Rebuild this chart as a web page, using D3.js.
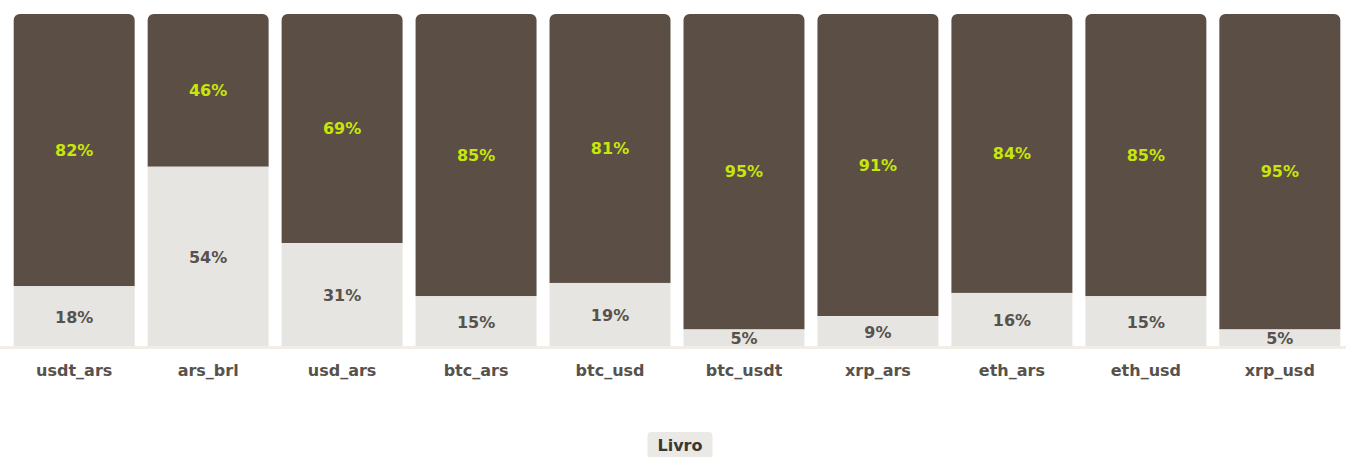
<!DOCTYPE html>
<html>
<head>
<meta charset="utf-8">
<script src="https://cdn.jsdelivr.net/npm/d3@7"></script>
<style>
  html, body { margin: 0; padding: 0; background: #ffffff; }
  svg { display: block; font-family: "DejaVu Sans", sans-serif; }
</style>
</head>
<body>
<svg id="chart" width="1346" height="457"></svg>
<script>
// Market pairs and the share of each bar (percent)
const categories = ["usdt_ars", "ars_brl", "usd_ars", "btc_ars", "btc_usd", "btc_usdt", "xrp_ars", "eth_ars", "eth_usd", "xrp_usd"];
const livroValues = [82, 46, 69, 85, 81, 95, 91, 84, 85, 95];
const restValues  = [18, 54, 31, 15, 19, 5, 9, 16, 15, 5];
const legendLabel = "Livro";

const width = 1346, height = 457;
const margin = { top: 14, right: 0, bottom: 111, left: 7 };
const baseY = height - margin.bottom;
const fontSize = 16;

const svg = d3.select("#chart");

const x = d3.scaleBand()
  .domain(categories)
  .range([margin.left, width + 1])
  .paddingInner(0.097)
  .paddingOuter(0.05);

const y = d3.scaleLinear()
  .domain([0, 100])
  .range([baseY, margin.top]);

const rows = categories.map((c, i) => ({ cat: c, livro: livroValues[i], rest: restValues[i] }));

// Rectangle with rounded top corners only
function topRounded(x0, y0, w, h, r) {
  const p = d3.path();
  p.moveTo(x0, y0 + h);
  p.lineTo(x0, y0 + r);
  p.arcTo(x0, y0, x0 + r, y0, r);
  p.lineTo(x0 + w - r, y0);
  p.arcTo(x0 + w, y0, x0 + w, y0 + r, r);
  p.lineTo(x0 + w, y0 + h);
  p.closePath();
  return p.toString();
}

const g = svg.append("g");

g.selectAll("path.livro")
  .data(rows)
  .join("path")
  .attr("class", "livro")
  .attr("d", d => topRounded(x(d.cat), y(d.rest + d.livro), x.bandwidth(), y(d.rest) - y(d.rest + d.livro), 6))
  .attr("fill", "#5b4e44");

g.selectAll("rect.rest")
  .data(rows)
  .join("rect")
  .attr("class", "rest")
  .attr("x", d => x(d.cat))
  .attr("y", d => y(d.rest))
  .attr("width", x.bandwidth())
  .attr("height", d => y(0) - y(d.rest))
  .attr("fill", "#e6e5e1");

// Baseline
svg.append("rect")
  .attr("x", 0)
  .attr("y", baseY)
  .attr("width", width)
  .attr("height", 3)
  .attr("fill", "#f3ede8");

// Value labels
g.selectAll("text.livro-label")
  .data(rows)
  .join("text")
  .attr("class", "livro-label")
  .attr("x", d => x(d.cat) + x.bandwidth() / 2)
  .attr("y", d => (y(d.rest + d.livro) + y(d.rest)) / 2)
  .attr("text-anchor", "middle")
  .attr("dominant-baseline", "central")
  .attr("font-size", fontSize)
  .attr("font-weight", 700)
  .attr("fill", "#c8e60a")
  .text(d => d.livro + "%");

g.selectAll("text.rest-label")
  .data(rows)
  .join("text")
  .attr("class", "rest-label")
  .attr("x", d => x(d.cat) + x.bandwidth() / 2)
  .attr("y", d => (y(d.rest) + y(0)) / 2 + 1)
  .attr("text-anchor", "middle")
  .attr("dominant-baseline", "central")
  .attr("font-size", fontSize)
  .attr("font-weight", 700)
  .attr("fill", "#57524d")
  .text(d => d.rest + "%");

// Category axis
const xAxis = svg.append("g")
  .attr("transform", `translate(0,${baseY + 3})`)
  .call(d3.axisBottom(x).tickSize(0).tickPadding(16));
xAxis.select(".domain").remove();
xAxis.selectAll("text")
  .attr("font-family", "'DejaVu Sans', sans-serif")
  .attr("font-size", fontSize)
  .attr("font-weight", 700)
  .attr("fill", "#57524d");

// Legend
const legend = svg.append("g").attr("transform", `translate(${width / 2 + 7},445)`);
const legendText = legend.append("text")
  .attr("text-anchor", "middle")
  .attr("dominant-baseline", "central")
  .attr("font-size", fontSize)
  .attr("font-weight", 700)
  .attr("fill", "#3a3632")
  .text(legendLabel);
const bb = legendText.node().getBBox();
legend.insert("rect", "text")
  .attr("x", bb.x - 10)
  .attr("y", -13)
  .attr("width", bb.width + 20)
  .attr("height", 26)
  .attr("rx", 4)
  .attr("fill", "#ebe9e5");
</script>
</body>
</html>
